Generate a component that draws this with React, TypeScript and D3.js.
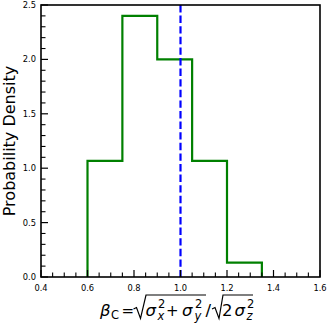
import React from 'react';
import * as d3 from 'd3';

// histogram of beta_C (density), bin edges and heights
const binEdges = [0.6, 0.75, 0.9, 1.05, 1.2, 1.35];
const densities = [1.067, 2.4, 2.0, 1.067, 0.133];
const refValue = 1.0;

const xMajorTicks = [0.4, 0.6, 0.8, 1.0, 1.2, 1.4, 1.6];
const yMajorTicks = [0.0, 0.5, 1.0, 1.5, 2.0, 2.5];

const width = 332;
const height = 324;
const margin = { top: 5, right: 12, bottom: 47, left: 41 };

const font = 'DejaVu Sans, sans-serif';

const App = () => {
  const x = d3.scaleLinear().domain([0.4, 1.6]).range([margin.left, width - margin.right]);
  const y = d3.scaleLinear().domain([0, 2.5]).range([height - margin.bottom, margin.top]);

  const x0 = x.range()[0];
  const x1 = x.range()[1];
  const y0 = y.range()[0];
  const y1 = y.range()[1];

  // minor ticks: every 0.05 on x, every 0.1 on y
  const xMinor = d3.range(0.4, 1.6001, 0.05).filter(v => !xMajorTicks.some(t => Math.abs(t - v) < 1e-6));
  const yMinor = d3.range(0, 2.5001, 0.1).filter(v => !yMajorTicks.some(t => Math.abs(t - v) < 1e-6));

  // step outline for the histogram
  const pts: [number, number][] = [[binEdges[0], 0]];
  densities.forEach((d, i) => {
    pts.push([binEdges[i], d]);
    pts.push([binEdges[i + 1], d]);
  });
  pts.push([binEdges[binEdges.length - 1], 0]);
  const line = d3.line<[number, number]>().x(d => x(d[0])).y(d => y(d[1]));

  const fmt = d3.format('.1f');

  const F = 16.5;
  const S = 11.5;
  const base = 316;

  return (
    <svg width={width} height={height} style={{ position: 'absolute', left: 0, top: 0, background: '#fff' }}>
      {/* histogram */}
      <path d={line(pts) || ''} fill="none" stroke="#008000" strokeWidth={2.2} strokeLinejoin="miter" />

      {/* reference line */}
      <line x1={x(refValue)} x2={x(refValue)} y1={y1} y2={y0} stroke="#0000ff" strokeWidth={2.2} strokeDasharray="7.4 3.2" />

      {/* ticks, inward, left and bottom */}
      {xMajorTicks.map(t => (
        <line key={'xM' + t} x1={x(t)} x2={x(t)} y1={y0} y2={y0 - 7} stroke="#000" strokeWidth={1.2} />
      ))}
      {xMinor.map(t => (
        <line key={'xm' + t} x1={x(t)} x2={x(t)} y1={y0} y2={y0 - 4.5} stroke="#000" strokeWidth={1.1} />
      ))}
      {yMajorTicks.map(t => (
        <line key={'yM' + t} x1={x0} x2={x0 + 7} y1={y(t)} y2={y(t)} stroke="#000" strokeWidth={1.2} />
      ))}
      {yMinor.map(t => (
        <line key={'ym' + t} x1={x0} x2={x0 + 4.5} y1={y(t)} y2={y(t)} stroke="#000" strokeWidth={1.1} />
      ))}

      {/* frame */}
      <rect x={x0} y={y1} width={x1 - x0} height={y0 - y1} fill="none" stroke="#000" strokeWidth={1.6} />

      {/* tick labels */}
      {xMajorTicks.map(t => (
        <text key={'xl' + t} x={x(t)} y={y0 + 14} textAnchor="middle" fontFamily={font} fontSize={8.3}>{fmt(t)}</text>
      ))}
      {yMajorTicks.map(t => (
        <text key={'yl' + t} x={x0 - 5} y={y(t) + 3} textAnchor="end" fontFamily={font} fontSize={8.3}>{fmt(t)}</text>
      ))}

      {/* y label */}
      <text transform={`translate(15,${(y0 + y1) / 2}) rotate(-90)`} textAnchor="middle" fontFamily={font} fontSize={16}>
        Probability Density
      </text>

      {/* x label: beta_C = sqrt(sx^2 + sy^2) / sqrt(2 sz^2) */}
      <g fontFamily={font} fill="#000">
        <text x={100} y={base} fontSize={F} fontStyle="italic">β</text>
        <text x={111} y={base + 3} fontSize={S}>C</text>
        <text x={121.5} y={base} fontSize={15}>=</text>
        <path d={`M133.5 309 L136.5 307.5 L140.5 318.5 L146 295 H206`} fill="none" stroke="#000" strokeWidth={1.2} />
        <text x={145.5} y={base} fontSize={F} fontStyle="italic">σ</text>
        <text x={158} y={base - 8.5} fontSize={S}>2</text>
        <text x={157.5} y={base + 4} fontSize={S} fontStyle="italic">x</text>
        <text x={166} y={base} fontSize={15}>+</text>
        <text x={182} y={base} fontSize={F} fontStyle="italic">σ</text>
        <text x={195} y={base - 8.5} fontSize={S}>2</text>
        <text x={194.5} y={base + 4} fontSize={S} fontStyle="italic">y</text>
        <text x={205.5} y={base} fontSize={F}>/</text>
        <path d={`M212 309 L215 307.5 L219 318.5 L223 295 H253`} fill="none" stroke="#000" strokeWidth={1.2} />
        <text x={222} y={base} fontSize={F}>2</text>
        <text x={234.5} y={base} fontSize={F} fontStyle="italic">σ</text>
        <text x={247} y={base - 8.5} fontSize={S}>2</text>
        <text x={246.5} y={base + 4} fontSize={S} fontStyle="italic">z</text>
      </g>
    </svg>
  );
};

export default App;
